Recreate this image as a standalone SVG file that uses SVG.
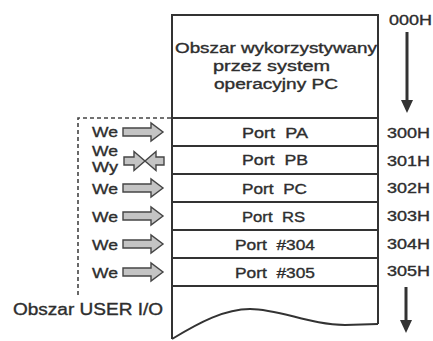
<svg xmlns="http://www.w3.org/2000/svg" width="433" height="341" viewBox="0 0 433 341">
<style>
  .t{font-family:"Liberation Sans",Arial,sans-serif;fill:#2e2e2e;stroke:#2e2e2e;stroke-width:0.35px;font-size:14px}
  .we{font-size:15.5px}
  .big{font-size:16px}
  .port{word-spacing:4px}
  .box{fill:none;stroke:#333;stroke-width:2}
  .row{stroke:#333;stroke-width:2}
  .ha{fill:#c4c4c4;stroke:#454545;stroke-width:1.4;stroke-linejoin:miter}
  .dash{fill:none;stroke:#444;stroke-width:1.6;stroke-dasharray:4 3}
  .down{stroke:#333;stroke-width:3;fill:none}
</style>
<defs>
  <path id="hr" d="M0,-4 H28 V-9 L40,0 L28,9 V4 H0 Z"/>
</defs>
<rect width="433" height="341" fill="#fff"/>

<g id="memory">
  <path class="box" d="M172,339 V15 H378 V324"/>
  <path class="box" d="M172,339 C200,322 225,309 250,309 C280,309 310,325 345,325 L378,324"/>
  <g id="os-area">
    <text class="t" x="175" y="53" textLength="202" lengthAdjust="spacingAndGlyphs">Obszar wykorzystywany</text>
    <text class="t" x="213" y="71" textLength="117" lengthAdjust="spacingAndGlyphs">przez system</text>
    <text class="t" x="214" y="89" textLength="124" lengthAdjust="spacingAndGlyphs">operacyjny PC</text>
  </g>
  <g id="port-pa">
    <line class="row" x1="172" y1="118" x2="378" y2="118"/>
    <text class="t port" x="242" y="138" textLength="66" lengthAdjust="spacingAndGlyphs">Port PA</text>
  </g>
  <g id="port-pb">
    <line class="row" x1="172" y1="146" x2="378" y2="146"/>
    <text class="t port" x="242" y="165" textLength="66" lengthAdjust="spacingAndGlyphs">Port PB</text>
  </g>
  <g id="port-pc">
    <line class="row" x1="172" y1="174" x2="378" y2="174"/>
    <text class="t port" x="242" y="194" textLength="65" lengthAdjust="spacingAndGlyphs">Port PC</text>
  </g>
  <g id="port-rs">
    <line class="row" x1="172" y1="202" x2="378" y2="202"/>
    <text class="t port" x="242" y="222" textLength="63" lengthAdjust="spacingAndGlyphs">Port RS</text>
  </g>
  <g id="port-304">
    <line class="row" x1="172" y1="230" x2="378" y2="230"/>
    <text class="t port" x="235" y="250" textLength="80" lengthAdjust="spacingAndGlyphs">Port #304</text>
  </g>
  <g id="port-305">
    <line class="row" x1="172" y1="258" x2="378" y2="258"/>
    <text class="t port" x="235" y="278" textLength="80" lengthAdjust="spacingAndGlyphs">Port #305</text>
    <line class="row" x1="172" y1="286" x2="378" y2="286"/>
  </g>
</g>

<g id="addresses">
  <text class="t" x="389" y="25" textLength="43" lengthAdjust="spacingAndGlyphs">000H</text>
  <text class="t" x="387" y="138" textLength="43" lengthAdjust="spacingAndGlyphs">300H</text>
  <text class="t" x="387" y="166" textLength="43" lengthAdjust="spacingAndGlyphs">301H</text>
  <text class="t" x="387" y="193" textLength="43" lengthAdjust="spacingAndGlyphs">302H</text>
  <text class="t" x="387" y="221" textLength="43" lengthAdjust="spacingAndGlyphs">303H</text>
  <text class="t" x="387" y="249" textLength="43" lengthAdjust="spacingAndGlyphs">304H</text>
  <text class="t" x="387" y="276" textLength="43" lengthAdjust="spacingAndGlyphs">305H</text>
</g>

<g id="directions">
  <text class="t we" x="92" y="137" textLength="26" lengthAdjust="spacingAndGlyphs">We</text>
  <text class="t we" x="92" y="156" textLength="26" lengthAdjust="spacingAndGlyphs">We</text>
  <text class="t we" x="92" y="172" textLength="26" lengthAdjust="spacingAndGlyphs">Wy</text>
  <text class="t we" x="92" y="194" textLength="26" lengthAdjust="spacingAndGlyphs">We</text>
  <text class="t we" x="92" y="222" textLength="26" lengthAdjust="spacingAndGlyphs">We</text>
  <text class="t we" x="92" y="250" textLength="26" lengthAdjust="spacingAndGlyphs">We</text>
  <text class="t we" x="92" y="278" textLength="26" lengthAdjust="spacingAndGlyphs">We</text>
</g>

<g id="user-io">
  <text class="t big" x="13" y="315" textLength="150" lengthAdjust="spacingAndGlyphs">Obszar USER I/O</text>
</g>

<g id="connectors">
  <path class="dash" d="M171,118 H78 V295"/>
  <use href="#hr" class="ha" transform="translate(123,132)"/>
  <path class="ha" d="M124,157 H134 V151.5 L145,161 L134,170.5 V165 H124 Z"/>
  <path class="ha" d="M164,157 H156 V151.5 L145,161 L156,170.5 V165 H164 Z"/>
  <use href="#hr" class="ha" transform="translate(123,188)"/>
  <use href="#hr" class="ha" transform="translate(123,216)"/>
  <use href="#hr" class="ha" transform="translate(123,244)"/>
  <use href="#hr" class="ha" transform="translate(123,272)"/>
  <line class="down" x1="407" y1="32" x2="407" y2="103"/>
  <path d="M401,100 L413,100 L407,113 Z" fill="#333"/>
  <line class="down" x1="406" y1="287" x2="406" y2="323"/>
  <path d="M400,320 L412,320 L406,333 Z" fill="#333"/>
</g>
</svg>
